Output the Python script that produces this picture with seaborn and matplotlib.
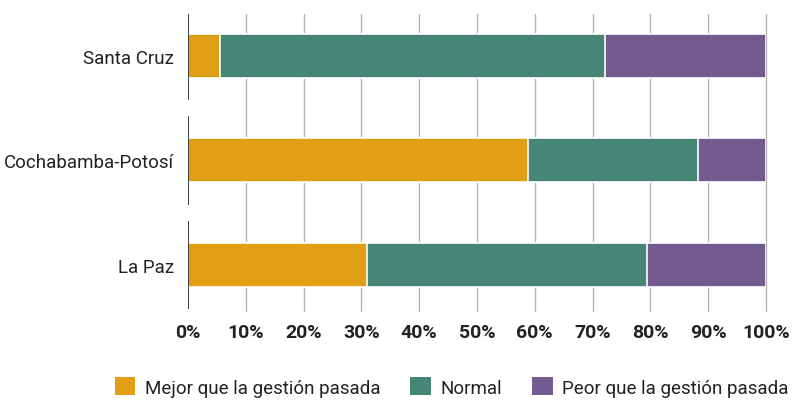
import matplotlib
matplotlib.use("Agg")
import matplotlib.pyplot as plt
from matplotlib.patches import Patch
from matplotlib.ticker import PercentFormatter
import numpy as np
import pandas as pd
import seaborn as sns

regions = ["Santa Cruz", "Cochabamba-Potosí", "La Paz"]
series = ["Mejor que la gestión pasada", "Normal", "Peor que la gestión pasada"]
mejor = [5.6, 58.8, 31.0]
normal = [66.5, 29.5, 48.4]
peor = [27.9, 11.7, 20.6]
colors = ["#E19F15", "#478676", "#745B8F"]

sns.set_theme(style="white")
plt.rcParams["font.family"] = ["Roboto", "DejaVu Sans"]
TEXT = "#222222"

df = pd.DataFrame({"region": regions, "mejor": mejor, "normal": normal, "peor": peor})
df["c1"] = df["mejor"]
df["c2"] = df["mejor"] + df["normal"]
df["c3"] = df["c2"] + df["peor"]

fig = plt.figure(figsize=(7.95, 4.06), dpi=100)
ax = fig.add_axes([188 / 795, 1 - 312 / 406, 578 / 795, 297 / 406])

# stacked bars: draw cumulative totals from longest to shortest
for col, c in zip(["c3", "c2", "c1"], colors[::-1]):
    sns.barplot(data=df, x=col, y="region", orient="h", color=c, width=0.42,
                edgecolor="white", linewidth=1.2, saturation=1, ax=ax, zorder=3)

ax.set_xlim(0, 100)
ax.set_ylim(2.44, -0.40)
ax.set_xticks(np.arange(0, 101, 10))
ax.xaxis.set_major_formatter(PercentFormatter(decimals=0))
ax.grid(True, axis="x", color="#b5b5b5", linewidth=1, zorder=0)
ax.set_axisbelow(True)
gls = ax.get_xgridlines()
for gl in gls:
    gl.set_clip_on(False)
gls[0].set_visible(False)
for s in ax.spines.values():
    s.set_visible(False)

# segmented left axis line per category
for i in range(len(regions)):
    ax.vlines(0, i - 0.425, i + 0.425, color="#333333", linewidth=1.3, zorder=4)

ax.tick_params(axis="x", length=0, pad=9, labelsize=14, labelcolor=TEXT)
ax.tick_params(axis="y", length=0, pad=10, labelsize=13.5, labelcolor=TEXT)
for lbl in ax.get_xticklabels():
    lbl.set_fontweight("bold")
ax.set_xlabel("")
ax.set_ylabel("")

handles = [Patch(facecolor=c, edgecolor="none") for c in colors]
fig.legend(handles, series, loc="center", bbox_to_anchor=(0.568, 1 - 388 / 406),
           ncol=3, frameon=False, fontsize=13.5, handlelength=1.1, handleheight=1.1,
           handletextpad=0.5, columnspacing=1.6, labelcolor=TEXT)

fig.savefig("out.png", dpi=100)
